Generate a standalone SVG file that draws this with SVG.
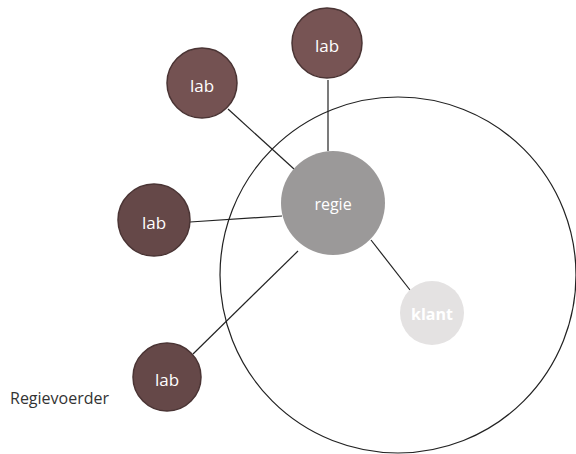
<svg xmlns="http://www.w3.org/2000/svg" width="576" height="454" viewBox="0 0 576 454">
  <style>
    .lab circle { fill: #654848; stroke: #4a3434; stroke-width: 1.5; }
    .lab text { fill: #ffffff; font-size: 17px; }
    text { font-family: "Open Sans", "Liberation Sans", sans-serif; font-size: 16px; text-anchor: middle; }
    .conn line { stroke: #222; stroke-width: 1.2; }
  </style>
  <rect width="576" height="454" fill="#ffffff"/>

  <!-- client domain -->
  <g id="domain">
    <circle cx="398" cy="275" r="178" fill="none" stroke="#222" stroke-width="1.2"/>
  </g>

  <g class="conn" id="connectors">
    <line x1="328" y1="80" x2="328" y2="151"/>
    <line x1="228" y1="109" x2="294" y2="169"/>
    <line x1="190" y1="222" x2="282" y2="216"/>
    <line x1="193" y1="354" x2="298" y2="251"/>
    <line x1="371" y1="240" x2="410" y2="290"/>
  </g>

  <g id="lab-top" class="lab">
    <circle cx="327" cy="43" r="35" style="fill:#775454"/>
    <text x="327" y="52">lab</text>
  </g>
  <g id="lab-upper" class="lab">
    <circle cx="202" cy="83" r="35" style="fill:#745252"/>
    <text x="202" y="92">lab</text>
  </g>
  <g id="lab-middle" class="lab">
    <circle cx="154" cy="220" r="36"/>
    <text x="154" y="229">lab</text>
  </g>
  <g id="lab-lower" class="lab">
    <circle cx="167" cy="377" r="34"/>
    <text x="167" y="386">lab</text>
  </g>

  <g id="regie">
    <circle cx="333" cy="203" r="52" fill="#9b9999"/>
    <text x="333" y="210" fill="#ffffff">regie</text>
  </g>

  <g id="klant">
    <circle cx="432" cy="313" r="32" fill="#e4e2e2"/>
    <text x="432" y="320" fill="#ffffff" font-weight="bold">klant</text>
  </g>

  <text x="10" y="404" style="text-anchor:start; font-size:16px" fill="#333">Regievoerder</text>
</svg>
